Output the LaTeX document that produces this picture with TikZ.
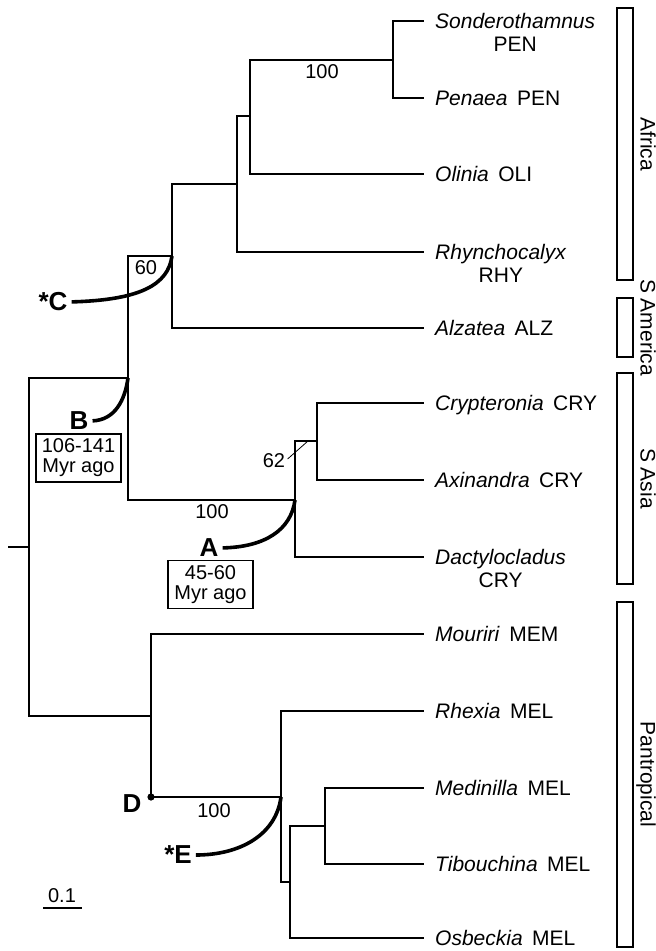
\documentclass[tikz,border=0pt]{standalone}
\usepackage{fontspec}
\setmainfont{Liberation Sans}
\usetikzlibrary{positioning}
\newcommand{\taxon}[2]{\textit{#1}\hspace{.45em}#2}

\begin{document}
\begin{tikzpicture}[
  x=1pt, y=-1pt,
  br/.style={line width=2pt},
  leaf/.style={font=\fontsize{21}{24}\selectfont, inner sep=0pt,
               text height=15pt, text depth=0.6pt},
  num/.style={font=\fontsize{20}{22}\selectfont, inner sep=0pt},
  clade/.style={font=\fontsize{26}{28}\selectfont\bfseries, inner sep=0pt},
  age/.style={draw, line width=1.5pt, font=\fontsize{20}{20}\selectfont, align=center,
              minimum width=85pt, minimum height=48pt, inner sep=1pt},
  hook/.style={line width=3.6pt, shorten >=4pt},
  region/.style={draw, line width=1.5pt, minimum width=16pt, inner sep=0pt},
  regtxt/.style={font=\fontsize{21}{24}\selectfont, rotate=-90, inner sep=0pt,
                 text height=15pt, text depth=4pt},
]
\useasboundingbox (0,0) rectangle (656,951);

% ---- internal nodes -------------------------------------------------------
\coordinate (rt0)  at (8,547);
\coordinate (root) at (29,547);
\coordinate (B)    at (128,378);
\coordinate (C)    at (172,256);
\coordinate (afr)  at (237,184);
\coordinate (olp)  at (250,116);
\coordinate (pen)  at (393,59.5);
\coordinate (A)    at (295,500);
\coordinate (cry)  at (317,441);
\coordinate (D)    at (151,716);
\coordinate (E)    at (281,797);
\coordinate (mel)  at (290,882);
\coordinate (mti)  at (325,826);

% ---- tips and taxa ----------------------------------------------------------
\foreach \n/\y in {tSon/21, tPen/98, tOli/174, tRhy/252, tAlz/328, tCry/403,
                   tAxi/480, tDac/557, tMou/634, tRhe/711, tMed/788, tTib/864, tOsb/938}
  \coordinate (\n) at (424,\y);

\node[leaf, right=11pt of tSon] (lSon) {\textit{Sonderothamnus}};
\node[leaf, below=7.4pt of lSon] (cSon) {PEN};
\node[leaf, right=11pt of tPen] (lPen) {\taxon{Penaea}{PEN}};
\node[leaf, right=11pt of tOli] (lOli) {\taxon{Olinia}{OLI}};
\node[leaf, right=11pt of tRhy] (lRhy) {\textit{Rhynchocalyx}};
\node[leaf, below=7.4pt of lRhy] (cRhy) {RHY};
\node[leaf, right=11pt of tAlz] (lAlz) {\taxon{Alzatea}{ALZ}};
\node[leaf, right=11pt of tCry] (lCry) {\taxon{Crypteronia}{CRY}};
\node[leaf, right=11pt of tAxi] (lAxi) {\taxon{Axinandra}{CRY}};
\node[leaf, right=11pt of tDac] (lDac) {\textit{Dactylocladus}};
\node[leaf, below=7.4pt of lDac] (cDac) {CRY};
\node[leaf, right=11pt of tMou] (lMou) {\taxon{Mouriri}{MEM}};
\node[leaf, right=11pt of tRhe] (lRhe) {\taxon{Rhexia}{MEL}};
\node[leaf, right=11pt of tMed] (lMed) {\taxon{Medinilla}{MEL}};
\node[leaf, right=11pt of tTib] (lTib) {\taxon{Tibouchina}{MEL}};
\node[leaf, right=11pt of tOsb] (lOsb) {\taxon{Osbeckia}{MEL}};

% ---- branches -------------------------------------------------------------
\draw[br] (rt0) -- (root);
\foreach \a/\b in {root/B, root/D, B/C, B/A, C/afr, C/tAlz, afr/olp, afr/tRhy,
                   olp/pen, olp/tOli, pen/tSon, pen/tPen, A/cry, A/tDac, cry/tCry,
                   cry/tAxi, D/tMou, D/E, E/tRhe, E/mel, mel/mti, mel/tOsb,
                   mti/tMed, mti/tTib}
  \draw[br] (\a) |- (\b);
\fill (D |- E) circle[radius=3.6pt];

% ---- support values -------------------------------------------------------
\node[num] (bs60)  at (146,268) {60};
\node[num] (bsPen) at (322,72)  {100};
\node[num] (bsA)   at (212,512) {100};
\node[num] (bs62)  at (274,461) {62};
\node[num] (bsE)   at (214,811) {100};
\draw[line width=0.8pt, shorten <=3pt] (bs62.east) -- ([xshift=-9pt]cry);

% ---- dated nodes ------------------------------------------------------------
\node[clade] (lblC) at (53,302)  {*C};
\node[clade] (lblB) at (79,421)  {B};
\node[clade] (lblA) at (209,548) {A};
\node[clade] (lblD) at (132,804) {D};
\node[clade] (lblE) at (178,855) {*E};
\node[age] (ageB) at (78.5,458)  {106-141\\Myr ago};
\node[age] (ageA) at (210.5,584.5) {45-60\\Myr ago};

\draw[hook] (C) .. controls (168,285) and (140,300) .. (lblC.east);
\draw[hook] (B) .. controls (125,400) and (115,420) .. (lblB.east);
\draw[hook] (A) .. controls (291,530) and (265,547) .. (lblA.east);
\draw[hook] (E) .. controls (276,835) and (240,855) .. (lblE.east);

% ---- scale bar ------------------------------------------------------------
\node[num] (scl) at (62,896) {0.1};
\draw[line width=1.5pt] (43,908) -- (82,908);

% ---- regions --------------------------------------------------------------
\node[region, minimum height=272pt] (rAfr) at (625,144)   {};
\node[region, minimum height=59pt]  (rSAm) at (625,327.5) {};
\node[region, minimum height=211pt] (rSAs) at (625,478.5) {};
\node[region, minimum height=345pt] (rPan) at (625,774.5) {};
\node[regtxt] at (646,144)   {Africa};
\node[regtxt] at (646,327.5) {S America};
\node[regtxt] at (646,478.5) {S Asia};
\node[regtxt] at (646,774.5) {Pantropical};

\end{tikzpicture}
\end{document}
